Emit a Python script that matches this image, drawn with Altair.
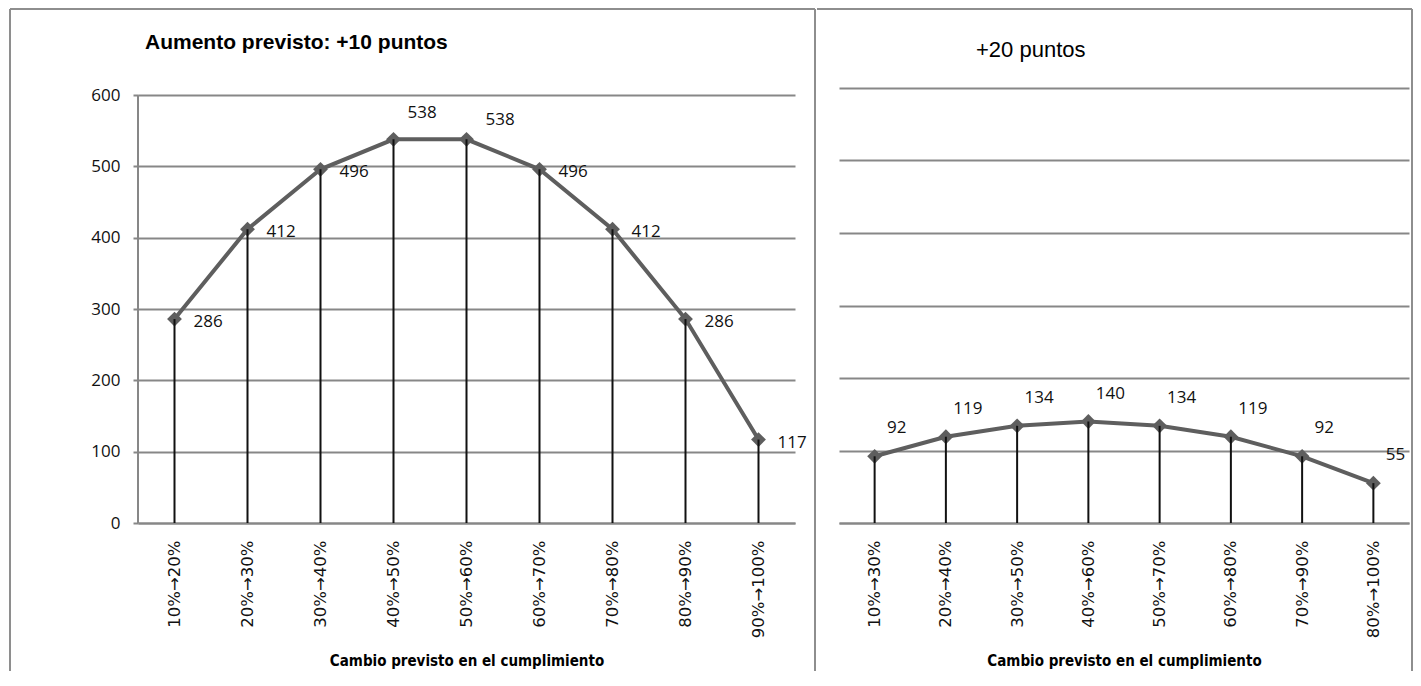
import altair as alt
import pandas as pd

# ---- data ----
cats_a = ["10%→20%", "20%→30%", "30%→40%", "40%→50%", "50%→60%",
          "60%→70%", "70%→80%", "80%→90%", "90%→100%"]
vals_a = [286, 412, 496, 538, 538, 496, 412, 286, 117]
cats_b = ["10%→30%", "20%→40%", "30%→50%", "40%→60%",
          "50%→70%", "60%→80%", "70%→90%", "80%→100%"]
vals_b = [92, 119, 134, 140, 134, 119, 92, 55]
top_a = ["40%→50%", "50%→60%"]
title_a = "Aumento previsto: +10 puntos"
title_b = "+20 puntos"
x_title = "Cambio previsto en el cumplimiento"
y_ticks = [0, 100, 200, 300, 400, 500, 600]

GRID = "#878787"
FRAME = "#8e8e8e"
LINE = "#5e5e5e"
FONT = "Open Sans, Liberation Sans, DejaVu Sans"
XFONT = "DejaVu Sans"
TFONT = "Liberation Sans"
AFONT = "DejaVu Sans Condensed, Liberation Sans"


def one_row():
    return alt.InlineData(values=[{"k": 1}])


def frame_rule(**enc):
    return alt.Chart(one_row()).mark_rule(color=FRAME, strokeWidth=2).encode(**enc)


def panel(cats, vals, width, height, ymax, left_axis, title, tx, ty, tsize, tweight,
          frames, label_layers):
    df = pd.DataFrame({"cat": cats, "val": vals})
    x = alt.X("cat:N", sort=cats,
              scale=alt.Scale(type="point", padding=0.5),
              axis=alt.Axis(title=x_title, labelAngle=270, ticks=False, tickSize=0,
                            labelPadding=17, labelFont=XFONT, labelFontSize=16.5,
                            labelColor="#111", domainColor=GRID, domainWidth=2,
                            titleFont=AFONT, titleFontWeight="bold",
                            titleFontSize=15, titleColor="#000", titlePadding=16))
    if left_axis:
        yaxis = alt.Axis(values=y_ticks, title=None, grid=True, gridColor=GRID, gridWidth=2,
                         domain=False, tickColor=GRID, tickWidth=2,
                         tickSize=5, labelPadding=13, labelFont=FONT, labelFontSize=17,
                         labelColor="#111")
    else:
        yaxis = alt.Axis(values=y_ticks, title=None, grid=True, gridColor=GRID, gridWidth=2,
                         labels=False, ticks=False, domain=False)
    y = alt.Y("val:Q", scale=alt.Scale(domain=[0, ymax], nice=False), axis=yaxis)

    base = alt.Chart(df)
    line = base.mark_line(color=LINE, strokeWidth=4).encode(x=x, y=y)
    pts = base.mark_point(shape="diamond", filled=True, size=220, color=LINE,
                          opacity=1).encode(x=x, y=y)
    drops = base.mark_rule(color="#111", strokeWidth=2).encode(
        x=x, y=y, y2=alt.datum(0))
    labels = [lay(base).encode(x=x, y=y, text="val:Q") for lay in label_layers]
    ttl = alt.Chart(alt.InlineData(values=[{"t": title}])).mark_text(
        align="left", baseline="middle", font=TFONT, fontSize=tsize,
        fontWeight=tweight, color="#000"
    ).encode(x=alt.value(tx), y=alt.value(ty), text="t:N")
    layers = [line, pts, drops] + labels + [ttl] + frames
    if left_axis:
        ydom = alt.Chart(one_row()).mark_rule(color=GRID, strokeWidth=2).encode(
            x=alt.value(0), y=alt.datum(0), y2=alt.datum(y_ticks[-1]))
        layers = [ydom] + layers
    return alt.layer(*layers).properties(width=width, height=height)


def lab_a_main(b):
    return b.transform_filter(
        alt.FieldOneOfPredicate(field="cat", oneOf=[c for c in cats_a if c not in top_a])
    ).mark_text(align="left", baseline="middle", dx=19, dy=3, font=FONT,
                fontSize=17, color="#111")


def lab_a_top1(b):
    return b.transform_filter(alt.FieldEqualPredicate(field="cat", equal=top_a[0])).mark_text(
        align="left", baseline="middle", dx=14, dy=-26, font=FONT, fontSize=17, color="#111")


def lab_a_top2(b):
    return b.transform_filter(alt.FieldEqualPredicate(field="cat", equal=top_a[1])).mark_text(
        align="left", baseline="middle", dx=19, dy=-19, font=FONT, fontSize=17, color="#111")


def lab_b(b):
    return b.mark_text(align="center", baseline="middle", dx=22, dy=-28, font=FONT,
                       fontSize=17, color="#111")


frames_a = [
    frame_rule(x=alt.value(-128), x2=alt.value(677), y=alt.value(-79)),
    frame_rule(x=alt.value(-128), y=alt.value(-79), y2=alt.value(583)),
    frame_rule(x=alt.value(677), y=alt.value(-79), y2=alt.value(583)),
]
frames_b = [
    frame_rule(x=alt.value(-22), x2=alt.value(573), y=alt.value(-79)),
    frame_rule(x=alt.value(573), y=alt.value(-79), y2=alt.value(583)),
]

left = panel(cats_a, vals_a, 657, 435, 610, True, title_a, 7, -45, 21, "bold",
             frames_a, [lab_a_main, lab_a_top1, lab_a_top2])
right = panel(cats_b, vals_b, 570, 435, 600, False, title_b, 137, -38, 22, "normal",
              frames_b, [lab_b])

chart = alt.hconcat(left, right, spacing=0).properties(
    padding={"left": 1, "top": 0, "right": 0, "bottom": 0},
    background="white",
).configure_view(stroke=None).resolve_scale(x="independent", y="independent")

chart.save("out.html", embed_options={"renderer": "svg", "actions": False})
